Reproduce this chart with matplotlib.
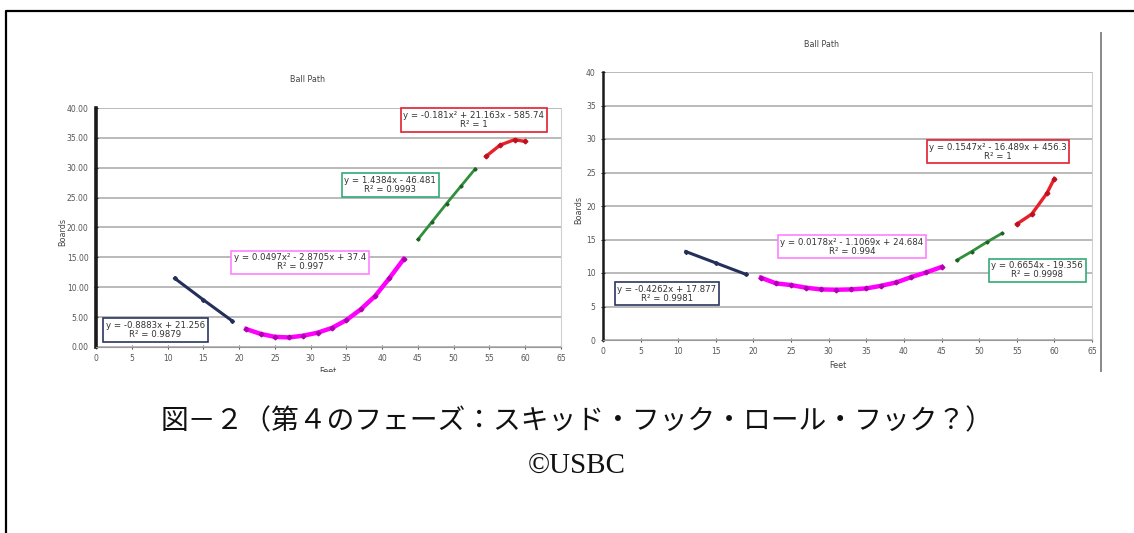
import numpy as np
import matplotlib
matplotlib.use("Agg")
import matplotlib.pyplot as plt
from matplotlib.lines import Line2D
from matplotlib.ticker import FormatStrFormatter
from matplotlib.transforms import Bbox

# Ball path, 4th phase (skid / hook / roll / hook) - two measured lanes

# --- left chart data (Feet vs Boards) ---
left_navy_x = [11, 15, 19]
left_navy_y = [11.5, 7.9, 4.4]
left_mag_x = [21, 23, 25, 27, 29, 31, 33, 35, 37, 39, 41, 43]
left_mag_y = [3.0, 2.2, 1.7, 1.6, 1.9, 2.4, 3.2, 4.5, 6.3, 8.5, 11.5, 14.7]
left_green_x = [45, 47, 49, 51, 53]
left_green_y = [18.0, 21.0, 24.0, 26.9, 29.8]
left_red_x = [54.5, 56.5, 58.5, 60]
left_red_y = [31.9, 33.8, 34.7, 34.4]
left_eqs = ["y = -0.8883x + 21.256\nR² = 0.9879",
            "y = 0.0497x² - 2.8705x + 37.4\nR² = 0.997",
            "y = 1.4384x - 46.481\nR² = 0.9993",
            "y = -0.181x² + 21.163x - 585.74\nR² = 1"]

# --- right chart data ---
right_navy_x = [11, 15, 19]
right_navy_y = [13.2, 11.5, 9.8]
right_mag_x = [21, 23, 25, 27, 29, 31, 33, 35, 37, 39, 41, 43, 45]
right_mag_y = [9.3, 8.45, 8.2, 7.8, 7.55, 7.5, 7.55, 7.7, 8.1, 8.6, 9.4, 10.1, 10.9]
right_green_x = [47, 49, 51, 53]
right_green_y = [11.9, 13.2, 14.6, 15.9]
right_red_x = [55, 57, 59, 60]
right_red_y = [17.3, 18.8, 21.9, 24.1]
right_eqs = ["y = -0.4262x + 17.877\nR² = 0.9981",
             "y = 0.0178x² - 1.1069x + 24.684\nR² = 0.994",
             "y = 0.6654x - 19.356\nR² = 0.9998",
             "y = 0.1547x² - 16.489x + 456.3\nR² = 1"]

caption = "図－２（第４のフェーズ：スキッド・フック・ロール・フック？）"
credit = "©USBC"

NAVY = "#24305a"
MAG = "#ff00ff"
GREEN = "#2f8f3a"
RED = "#e8202a"
BOX_EC = ["#2b3560", "#ff80ff", "#33aa77", "#e02030"]

W, H = 1134, 533
fig = plt.figure(figsize=(W / 100, H / 100), dpi=100)


def px_rect(x0, y0, x1, y1):
    return [x0 / W, 1 - y1 / H, (x1 - x0) / W, (y1 - y0) / H]


def style(ax, fmt, spine_lw):
    ax.set_xlim(0, 65)
    ax.set_ylim(0, 40)
    ax.set_xticks(np.arange(0, 66, 5))
    ax.set_yticks(np.arange(0, 41, 5))
    ax.yaxis.set_major_formatter(FormatStrFormatter(fmt))
    ax.grid(axis="y", color="#b4b4b4", lw=1.3)
    ax.set_axisbelow(True)
    ax.spines["top"].set_visible(False)
    ax.spines["right"].set_color("#d0d0d0")
    ax.spines["bottom"].set_color("#999999")
    ax.spines["left"].set_color("#1a1a1a")
    ax.spines["left"].set_linewidth(spine_lw)
    ax.tick_params(labelsize=5.5, colors="#555555", length=2.5,
                   direction="inout", pad=4)
    ax.tick_params(axis="y", colors="#333333", labelcolor="#555555")


def draw_series(ax, nx, ny, mx, my, gx, gy, rx, ry):
    ax.plot(nx, ny, color=NAVY, lw=2.2, marker="D", ms=2.0,
            mfc=NAVY, mec=NAVY, zorder=3)
    ax.plot(mx, my, color=MAG, lw=3.2, zorder=3)
    ax.plot(mx, my, ls="none", marker="D", ms=2.4, mfc="#b000b0",
            mec="#b000b0", zorder=4)
    ax.plot(gx, gy, color=GREEN, lw=2.0, marker="D", ms=1.6,
            mfc="#1f5f25", mec="#1f5f25", zorder=3)
    ax.plot(rx, ry, color=RED, lw=2.4, zorder=3)
    ax.plot(rx, ry, ls="none", marker="D", ms=2.4, mfc="#c01020",
            mec="#c01020", zorder=4)


def draw_boxes(ax, eqs, spots):
    for eq, (x, y), ec in zip(eqs, spots, BOX_EC):
        ax.text(x, y, eq, ha="center", va="center", multialignment="center",
                fontsize=6.2, color="#333333", linespacing=1.0,
                family="DejaVu Sans", zorder=5,
                bbox=dict(boxstyle="square,pad=0.3", fc="white", ec=ec, lw=1.2))


ax1 = fig.add_axes(px_rect(96, 108, 561, 347))
style(ax1, "%.2f", 2.6)
draw_series(ax1, left_navy_x, left_navy_y, left_mag_x, left_mag_y,
            left_green_x, left_green_y, left_red_x, left_red_y)
draw_boxes(ax1, left_eqs, [(8.3, 2.85), (28.5, 14.2), (41.1, 27.1), (52.8, 38.0)])

ax2 = fig.add_axes(px_rect(603, 72, 1092, 340))
style(ax2, "%d", 1.8)
draw_series(ax2, right_navy_x, right_navy_y, right_mag_x, right_mag_y,
            right_green_x, right_green_y, right_red_x, right_red_y)
draw_boxes(ax2, right_eqs, [(8.5, 6.9), (33.1, 13.9), (57.7, 10.4), (52.5, 28.1)])

# titles and axis names, placed like the pasted Excel pictures
label_kw = dict(fontsize=5.8, color="#444444", ha="center", va="center")
fig.text(308 / W, 1 - 80 / H, "Ball Path", **label_kw)
fig.text(822 / W, 1 - 45 / H, "Ball Path", **label_kw)
fig.text(63 / W, 1 - 232 / H, "Boards", rotation=90, **label_kw)
fig.text(579 / W, 1 - 210 / H, "Boards", rotation=90, **label_kw)
feet_left = fig.text(328 / W, 1 - 371 / H, "Feet", **label_kw)
feet_left.set_clip_box(Bbox.from_extents(0, H - 372, W, H))
feet_left.set_clip_on(True)
fig.text(838 / W, 1 - 365 / H, "Feet", **label_kw)

# caption
fig.text(577 / W, 1 - 421 / H, caption, fontsize=20, ha="center", va="center",
         family=["Noto Sans CJK JP", "DejaVu Sans"], color="#111111")
fig.text(577 / W, 1 - 467 / H, credit, fontsize=21, ha="center", va="center",
         family="Liberation Serif", color="#111111")

# frame of the page box and the edge of the right picture
fig.add_artist(Line2D([6 / W, 6 / W, 1.0], [0.0, 1 - 11 / H, 1 - 11 / H],
                      transform=fig.transFigure, color="black", lw=1.6))
fig.add_artist(Line2D([1101 / W, 1101 / W], [1 - 33 / H, 1 - 371 / H],
                      transform=fig.transFigure, color="#888888", lw=1.4))

fig.savefig("out.png", dpi=100)
